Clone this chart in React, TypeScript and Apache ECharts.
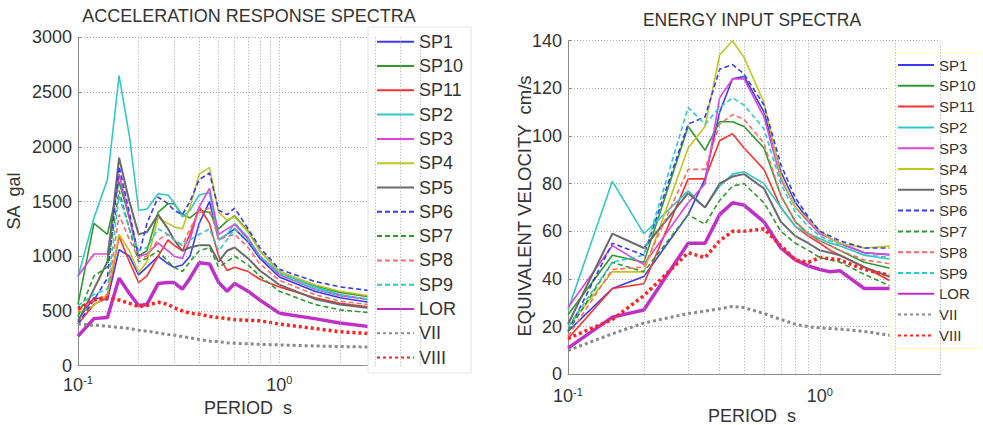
import React, { useEffect, useRef } from "react";
import * as echarts from "echarts";

// ---- Left chart: acceleration response spectra (SA, gal) ----
const PERIOD_L = [0.1, 0.12, 0.14, 0.16, 0.18, 0.2, 0.22, 0.25, 0.28, 0.3, 0.33, 0.36, 0.4, 0.45, 0.5, 0.55, 0.6, 0.7, 0.8, 1.0, 1.5, 2.0, 3.0];
const L_SP1 = [420, 620, 600, 1060, 1000, 830, 900, 1000, 930, 900, 920, 1000, 1300, 1500, 1150, 1200, 1250, 1130, 980, 810, 680, 620, 570];
const L_SP10 = [560, 1300, 1200, 1680, 1350, 1000, 1050, 1400, 1480, 1480, 1380, 1350, 1420, 1400, 1250, 1320, 1370, 1230, 1050, 860, 730, 670, 620];
const L_SP11 = [380, 560, 620, 1180, 950, 760, 820, 1000, 1150, 1100, 1050, 1200, 1450, 1300, 1000, 870, 900, 860, 790, 720, 620, 570, 530];
const L_SP2 = [810, 1350, 1700, 2650, 2100, 1420, 1430, 1570, 1560, 1490, 1360, 1420, 1560, 1580, 1150, 1200, 1300, 1170, 1000, 850, 720, 650, 590];
const L_SP3 = [820, 1020, 1020, 1750, 1350, 1000, 1020, 1120, 1050, 1000, 980, 1150, 1450, 1620, 1200, 1250, 1290, 1160, 1000, 830, 700, 640, 600];
const L_SP4 = [480, 550, 650, 1200, 1050, 850, 950, 1350, 1300, 1270, 1250, 1450, 1750, 1810, 1400, 1330, 1360, 1220, 1050, 860, 740, 680, 630];
const L_SP5 = [400, 700, 950, 1900, 1500, 1200, 1220, 1380, 1250, 1150, 1050, 1080, 1100, 1100, 950, 1050, 1080, 980, 870, 740, 610, 560, 520];
const L_SP6 = [380, 600, 800, 1820, 1400, 1000, 1300, 1540, 1480, 1420, 1380, 1500, 1700, 1760, 1420, 1380, 1440, 1250, 1080, 880, 770, 720, 680];
const L_SP7 = [450, 820, 900, 1600, 1250, 950, 980, 1050, 950, 900, 860, 950, 1050, 1080, 900, 950, 1000, 920, 820, 680, 560, 510, 480];
const L_SP8 = [500, 600, 650, 1380, 1150, 980, 1000, 1150, 1200, 1150, 1100, 1250, 1400, 1440, 1150, 1180, 1200, 1080, 930, 780, 650, 590, 550];
const L_SP9 = [550, 650, 700, 1550, 1250, 1050, 1080, 1250, 1200, 1150, 1100, 1150, 1200, 1250, 1050, 1150, 1250, 1150, 1000, 840, 700, 640, 600];
const L_LOR = [270, 430, 440, 800, 660, 550, 560, 750, 760, 760, 700, 800, 940, 930, 760, 680, 750, 680, 600, 480, 430, 390, 350];
const L_VII = [380, 370, 360, 350, 340, 325, 315, 300, 285, 280, 265, 255, 240, 225, 220, 210, 205, 200, 195, 190, 180, 175, 170];
const L_VIII = [520, 600, 620, 600, 570, 540, 550, 580, 560, 530, 500, 480, 470, 450, 440, 430, 420, 415, 410, 380, 340, 310, 290];

// ---- Right chart: energy input spectra (equivalent velocity, cm/s) ----
const PERIOD_R = [0.1, 0.15, 0.2, 0.3, 0.35, 0.4, 0.45, 0.5, 0.6, 0.7, 0.8, 0.9, 1.0, 1.1, 1.2, 1.5, 2.0];
const R_SP1 = [18, 36, 41, 67, 82, 110, 124, 125, 110, 85, 72, 65, 60, 57, 55, 51, 50];
const R_SP10 = [25, 50, 47, 104, 94, 106, 106, 104, 95, 75, 64, 59, 56, 54, 52, 47, 44];
const R_SP11 = [15, 36, 38, 82, 82, 98, 101, 95, 86, 70, 62, 58, 55, 52, 50, 45, 38];
const R_SP2 = [27, 81, 59, 77, 70, 79, 84, 85, 80, 70, 62, 59, 57, 55, 54, 50, 48];
const R_SP3 = [28, 54, 46, 72, 80, 116, 124, 124, 108, 82, 70, 64, 59, 57, 55, 51, 50];
const R_SP4 = [20, 43, 43, 95, 104, 134, 140, 133, 114, 83, 70, 65, 60, 57, 55, 53, 54];
const R_SP5 = [21, 59, 53, 76, 70, 80, 83, 84, 78, 64, 58, 55, 52, 51, 50, 45, 40];
const R_SP6 = [18, 55, 50, 105, 108, 128, 130, 126, 113, 88, 74, 66, 60, 58, 56, 53, 53];
const R_SP7 = [18, 47, 43, 67, 63, 73, 79, 80, 72, 60, 55, 52, 49, 48, 47, 42, 36];
const R_SP8 = [16, 44, 45, 86, 86, 105, 109, 107, 97, 75, 64, 59, 56, 54, 52, 48, 46];
const R_SP9 = [20, 47, 50, 112, 105, 112, 116, 113, 103, 80, 68, 62, 58, 56, 54, 50, 49];
const R_LOR = [11, 24, 27, 55, 55, 67, 72, 71, 64, 53, 48, 45.5, 44, 43, 43.5, 36, 36];
const R_VII = [10, 17, 21.5, 25.5, 26.5, 27.5, 28.5, 28, 25.5, 23, 21, 20, 19.5, 19.2, 19, 18, 16];
const R_VIII = [15, 23, 33, 51, 49, 56, 60, 60, 61, 54, 48, 47, 49, 48.5, 48, 44, 41];

const NAMES = ["SP1", "SP10", "SP11", "SP2", "SP3", "SP4", "SP5", "SP6", "SP7", "SP8", "SP9", "LOR", "VII", "VIII"];
const LEFT_DATA = [L_SP1, L_SP10, L_SP11, L_SP2, L_SP3, L_SP4, L_SP5, L_SP6, L_SP7, L_SP8, L_SP9, L_LOR, L_VII, L_VIII];
const RIGHT_DATA = [R_SP1, R_SP10, R_SP11, R_SP2, R_SP3, R_SP4, R_SP5, R_SP6, R_SP7, R_SP8, R_SP9, R_LOR, R_VII, R_VIII];

const GRID_PERIODS_L = [0.2, 0.3, 0.4, 0.5, 0.6, 0.7, 0.8, 0.9, 1, 2, 3, 4, 5];
const GRID_PERIODS_R = [0.2, 0.3, 0.4, 0.5, 0.6, 0.7, 0.8, 0.9, 1, 2, 3];

const FONT = "'Liberation Sans', Arial, Helvetica, sans-serif";
const TXT = "#333333";

const STYLES: { color: string; width: number; type: any }[] = [
  { color: "#3a3af0", width: 1.6, type: "solid" },
  { color: "#2e9a2e", width: 1.6, type: "solid" },
  { color: "#ff3030", width: 1.6, type: "solid" },
  { color: "#33c8c8", width: 1.6, type: "solid" },
  { color: "#dd44dd", width: 1.6, type: "solid" },
  { color: "#c4c420", width: 1.6, type: "solid" },
  { color: "#6a6a6a", width: 2, type: "solid" },
  { color: "#3a3af0", width: 1.6, type: [5, 3] },
  { color: "#2e9a2e", width: 1.6, type: [5, 3] },
  { color: "#ff6a6a", width: 1.6, type: [5, 3] },
  { color: "#33c8c8", width: 1.6, type: [5, 3] },
  { color: "#c030c8", width: 3.5, type: "solid" },
  { color: "#8a8a8a", width: 3, type: [3, 3] },
  { color: "#ff2020", width: 3.5, type: [3, 3] },
];

function xAxisCfg(gridIndex: number, max: number, margin: number) {
  return {
    type: "log",
    logBase: 10,
    gridIndex,
    min: 0.1,
    max,
    axisLine: { show: true, lineStyle: { color: "#8c8c8c", width: 1 } },
    axisTick: { show: false },
    splitLine: { show: false },
    axisLabel: {
      margin,
      color: TXT,
      formatter: (v: number) => {
        const l = Math.log10(v);
        const e = Math.round(l);
        if (Math.abs(l - e) > 1e-6) return "";
        return `{b|10}{s|${e}}`;
      },
      rich: {
        b: { fontSize: 18, fontFamily: FONT, color: TXT, lineHeight: 20 },
        s: { fontSize: 11, fontFamily: FONT, color: TXT, verticalAlign: "top", lineHeight: 11 },
      },
    },
  };
}

function yAxisCfg(gridIndex: number, max: number, interval: number) {
  return {
    type: "value",
    gridIndex,
    min: 0,
    max,
    interval,
    axisLine: { show: true, lineStyle: { color: "#8c8c8c", width: 1 } },
    axisTick: { show: true, inside: true, length: 4, lineStyle: { color: "#8c8c8c" } },
    splitLine: { show: true, lineStyle: { color: "#a8a8a8", width: 1, type: [1, 2] } },
    axisLabel: { margin: 6, color: TXT, fontSize: 18, fontFamily: FONT, formatter: (v: number) => String(v) },
  };
}

function legendCfg(left: number, top: number, fontSize: number, itemWidth: number, gap: number, pad: number[], border: string, textGap: number) {
  return {
    orient: "vertical",
    left,
    top,
    height: 400,
    data: NAMES,
    itemWidth,
    itemHeight: 12,
    itemGap: gap,
    itemTextGap: textGap,
    padding: pad,
    backgroundColor: "#ffffff",
    borderColor: border,
    borderWidth: 1,
    borderRadius: 0,
    selectedMode: false,
    itemStyle: { opacity: 0 },
    textStyle: { fontSize, fontFamily: FONT, color: TXT, lineHeight: fontSize },
  };
}

export default function App() {
  const ref = useRef<HTMLDivElement>(null);
  useEffect(() => {
    if (!ref.current) return;
    const chart = echarts.init(ref.current, undefined, { renderer: "svg" });

    const series: any[] = [];
    // vertical (minor) grid lines placed through the log axes
    [0, 1].forEach((gi) => {
      series.push({
        type: "line",
        name: "grid" + gi,
        xAxisIndex: gi,
        yAxisIndex: gi,
        data: [],
        z: 1,
        silent: true,
        markLine: {
          silent: true,
          symbol: ["none", "none"],
          label: { show: false },
          lineStyle: { color: "#a8a8a8", width: 1, type: [1, 2] },
          data: (gi === 0 ? GRID_PERIODS_L : GRID_PERIODS_R).map((v) => ({ xAxis: v })),
        },
      });
    });
    NAMES.forEach((name, i) => {
      const st = STYLES[i];
      series.push({
        type: "line",
        name,
        xAxisIndex: 0,
        yAxisIndex: 0,
        symbol: "none",
        z: 3,
        lineStyle: { color: st.color, width: st.width, type: st.type, cap: "butt" },
        itemStyle: { color: st.color },
        data: PERIOD_L.map((p, k) => [p, LEFT_DATA[i][k]]),
      });
    });
    NAMES.forEach((name, i) => {
      const st = STYLES[i];
      series.push({
        type: "line",
        name,
        xAxisIndex: 1,
        yAxisIndex: 1,
        symbol: "none",
        z: 3,
        lineStyle: { color: st.color, width: st.width, type: st.type, cap: "butt" },
        itemStyle: { color: st.color },
        data: PERIOD_R.map((p, k) => [p, RIGHT_DATA[i][k]]),
      });
    });

    const txt = (text: string, x: number, y: number, size: number, rot = 0) => ({
      type: "text",
      x,
      y,
      rotation: rot,
      z: 10,
      style: { text, fontSize: size, fontFamily: FONT, fill: TXT, align: "center", verticalAlign: "middle" },
    });

    chart.setOption({
      animation: false,
      backgroundColor: "#ffffff",
      textStyle: { fontFamily: FONT },
      grid: [
        { left: 78, top: 37.3, width: 342, height: 328.4, containLabel: false },
        { left: 568, top: 40.7, width: 372, height: 333.6, containLabel: false },
      ],
      xAxis: [xAxisCfg(0, 5, 9), xAxisCfg(1, 3, 12)],
      yAxis: [yAxisCfg(0, 3000, 500), yAxisCfg(1, 140, 20)],
      legend: [
        legendCfg(368, 27, 18, 37, 6.3, [5.7, 8, 6.4, 8], "#e4e4e4", 5),
        legendCfg(890, 53, 15, 36, 5.8, [4.5, 6, 5.5, 7], "#ffffb8", 4),
      ],
      graphic: [
        txt("ACCELERATION RESPONSE SPECTRA", 249, 16, 18),
        txt("ENERGY INPUT SPECTRA", 752, 20, 17.5),
        txt("SA  gal", 14, 201, 18, Math.PI / 2),
        txt("EQUIVALENT VELOCITY  cm/s", 524, 206, 18.5, Math.PI / 2),
        txt("PERIOD  s", 248, 408, 18),
        txt("PERIOD  s", 752, 416, 18),
      ],
      series,
    });
    return () => chart.dispose();
  }, []);
  return (
    <div
      ref={ref}
      style={{ position: "fixed", left: 0, top: 0, width: 983, height: 425, background: "#fff" }}
    />
  );
}
